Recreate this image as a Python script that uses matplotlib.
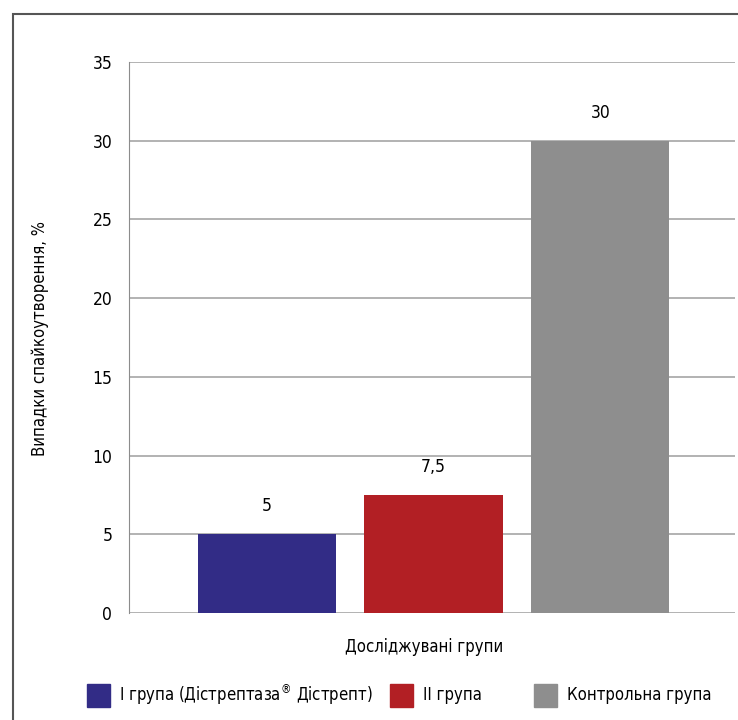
import matplotlib.pyplot as plt
from matplotlib.patches import Rectangle

plt.rcParams['font.family'] = ['DejaVu Sans']
plt.rcParams['font.stretch'] = 'condensed'

groups = ['I група (Дістрептаза$^{®}$ Дістрепт)', 'II група', 'Контрольна група']
values = [5, 7.5, 30]
labels = ['5', '7,5', '30']
colors = ['#322c86', '#b21f24', '#8e8e8e']

fig = plt.figure(figsize=(7.38, 7.2), dpi=100)
W, H = 738, 720
ax = fig.add_axes([129 / W, 1 - 613 / H, (735 - 129) / W, (613 - 62) / H])

x = [0, 1, 2]
bars = ax.bar(x, values, width=0.83, color=colors, zorder=3)
for b, t in zip(bars, labels):
    ax.text(b.get_x() + b.get_width() / 2, b.get_height() + 1.2, t,
            ha='center', va='bottom', fontsize=12.5)

ax.set_ylim(0, 35)
ax.set_yticks(range(0, 36, 5))
ax.set_xlim(-0.826, 2.808)
ax.set_xticks([])
ax.yaxis.grid(True, color='#a6a6a6', lw=1.2, zorder=0)
for s in ['top', 'right', 'bottom']:
    ax.spines[s].set_visible(False)
ax.spines['left'].set_color('#8c8c8c')
ax.tick_params(axis='y', length=0, pad=12, labelsize=12.5)

fig.text(40 / W, 1 - 339 / H, 'Випадки спайкоутворення, %', rotation=90,
         ha='center', va='center', fontsize=12)
fig.text(424 / W, 1 - 647 / H, 'Досліджувані групи', ha='center', va='center', fontsize=12)

# legend drawn by hand: swatch + text
swatch_x = [87, 390, 534]
text_x = [119, 423, 567]
for sx, tx, c, g in zip(swatch_x, text_x, colors, groups):
    fig.patches.append(Rectangle((sx / W, 1 - 707 / H), 23 / W, 23 / H,
                                 transform=fig.transFigure, color=c))
    fig.text(tx / W, 1 - 695 / H, g, ha='left', va='center', fontsize=12)

# outer frame
fig.patches.append(Rectangle((13 / W, -0.05), 1.1, 1 - 14 / H + 0.05,
                             transform=fig.transFigure, fill=False,
                             edgecolor='#555555', lw=1.5))

fig.savefig('out.png', dpi=100)
